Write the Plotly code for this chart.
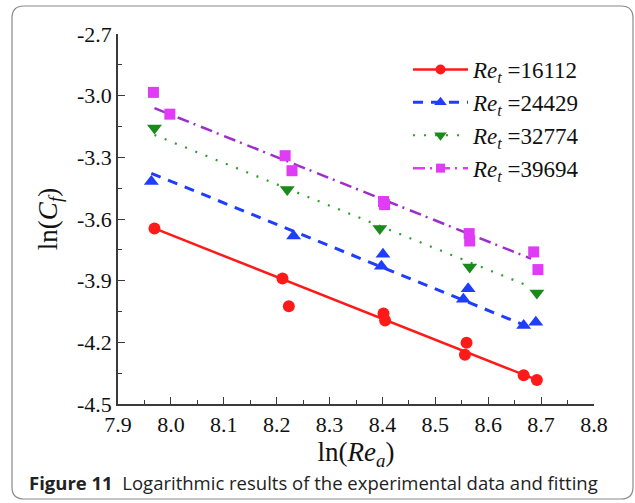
import plotly.graph_objects as go

# ---------------- data ----------------
red_x = [7.969, 8.211, 8.223, 8.402, 8.405, 8.556, 8.559, 8.667, 8.692]
red_y = [-3.646, -3.890, -4.025, -4.060, -4.094, -4.260, -4.202, -4.360, -4.383]
red_fit_x = [7.969, 8.692]
red_fit_y = [-3.646, -4.383]

blue_x = [7.963, 8.232, 8.401, 8.398, 8.562, 8.553, 8.667, 8.690]
blue_y = [-3.418, -3.683, -3.772, -3.830, -3.939, -3.990, -4.118, -4.102]
blue_fit_x = [7.963, 8.672]
blue_fit_y = [-3.378, -4.120]

green_x = [7.969, 8.220, 8.395, 8.565, 8.692]
green_y = [-3.157, -3.456, -3.646, -3.834, -3.960]
green_fit_x = [7.969, 8.678]
green_fit_y = [-3.191, -3.928]

mag_x = [7.967, 7.998, 8.216, 8.229, 8.402, 8.404, 8.564, 8.565, 8.686, 8.694]
mag_y = [-2.984, -3.090, -3.292, -3.365, -3.515, -3.530, -3.671, -3.707, -3.760, -3.846]
mag_fit_x = [7.969, 8.681]
mag_fit_y = [-3.061, -3.793]

legend_names = ["16112", "24429", "32774", "39694"]
x_ticks = [7.9, 8.0, 8.1, 8.2, 8.3, 8.4, 8.5, 8.6, 8.7, 8.8]
y_ticks = [-2.7, -3.0, -3.3, -3.6, -3.9, -4.2, -4.5]

# ---------------- styles ----------------
RED = "#ff1a1a"
BLUE = "#1f3dff"
GREEN = "#1a8a1a"
MAG = "#e03cf5"
PURPLE = "#9d2fc9"

series = [
    (red_x, red_y, red_fit_x, red_fit_y, RED, RED, "solid", "circle", 12, 2.5, 10),
    (blue_x, blue_y, blue_fit_x, blue_fit_y, BLUE, BLUE, "10px,8px", "triangle-up", 13, 3, 11),
    (green_x, green_y, green_fit_x, green_fit_y, GREEN, "#2aa02a", "2px,9px", "triangle-down", 13, 2.2, 11),
    (mag_x, mag_y, mag_fit_x, mag_fit_y, MAG, PURPLE, "12px,5px,2px,6px", "square", 11, 2.5, 9),
]

fig = go.Figure()
for (sx, sy, fx, fy, mcol, lcol, dash, sym, msz, lw, lsz) in series:
    fig.add_trace(go.Scatter(x=fx, y=fy, mode="lines",
                             line=dict(color=lcol, width=lw, dash=dash),
                             showlegend=False, hoverinfo="skip"))
for (sx, sy, fx, fy, mcol, lcol, dash, sym, msz, lw, lsz) in series:
    fig.add_trace(go.Scatter(x=sx, y=sy, mode="markers",
                             marker=dict(color=mcol, symbol=sym, size=msz, line=dict(width=0)),
                             showlegend=False))
leg_line_cols = [RED, BLUE, "#2aa02a", MAG]
for (s, name, lc) in zip(series, legend_names, leg_line_cols):
    sx, sy, fx, fy, mcol, lcol, dash, sym, msz, lw, lsz = s
    fig.add_trace(go.Scatter(x=[None], y=[None], mode="lines+markers",
                             line=dict(color=lc, width=lw, dash=dash),
                             marker=dict(color=mcol, symbol=sym, size=lsz),
                             name="<i>Re</i><sub><i>t</i></sub> =" + name))

L, R, T, B = 118, 41, 34, 99
W, H = 635, 503
pw, ph = W - L - R, H - T - B


def px2paper_x(p):
    return (p - L) / pw


def px2paper_y(p):
    return 1 - (p - T) / ph


# rounded border box
x0, x1, y0, y1, r = 12, 633, 6, 499, 12
rx, ry = r / pw, r / ph
X0, X1 = px2paper_x(x0), px2paper_x(x1)
Y0, Y1 = px2paper_y(y0), px2paper_y(y1)
path = (f"M {X0+rx},{Y0} L {X1-rx},{Y0} Q {X1},{Y0} {X1},{Y0-ry} "
        f"L {X1},{Y1+ry} Q {X1},{Y1} {X1-rx},{Y1} L {X0+rx},{Y1} "
        f"Q {X0},{Y1} {X0},{Y1+ry} L {X0},{Y0-ry} Q {X0},{Y0} {X0+rx},{Y0} Z")

axis_common = dict(
    showline=True, linecolor="#3a3a3a", linewidth=1.5,
    ticks="inside", ticklen=7, tickwidth=1.2, tickcolor="#3a3a3a",
    showgrid=False, zeroline=False, mirror=False,
    tickfont=dict(family="Liberation Serif", size=22, color="#111"),
)

fig.update_layout(
    width=W, height=H,
    margin=dict(l=L, r=R, t=T, b=B),
    paper_bgcolor="white", plot_bgcolor="white",
    xaxis=dict(range=[7.9, 8.8], tickvals=x_ticks, ticktext=[f"{v:.1f}" for v in x_ticks],
               minor=dict(ticks="inside", ticklen=4, tickcolor="#3a3a3a", dtick=0.05, tick0=7.9),
               title=dict(text="ln(<i>Re</i><sub><i>a</i></sub>)",
                          font=dict(family="Liberation Serif", size=27, color="#111"), standoff=2),
               **axis_common),
    yaxis=dict(range=[-4.5, -2.7], tickvals=y_ticks, ticktext=[f"{v:.1f}" for v in y_ticks],
               minor=dict(ticks="inside", ticklen=4, tickcolor="#3a3a3a", dtick=0.15, tick0=-2.7),
               title=dict(text="ln(<i>C</i><sub><i>f</i></sub>)",
                          font=dict(family="Liberation Serif", size=27, color="#111"), standoff=12),
               **axis_common),
    legend=dict(x=px2paper_x(408), y=px2paper_y(48), xanchor="left", yanchor="top",
                bgcolor="rgba(0,0,0,0)", itemwidth=55,
                font=dict(family="Liberation Serif", size=23, color="#111"),
                tracegroupgap=0),
    shapes=[dict(type="path", xref="paper", yref="paper", path=path,
                 line=dict(color="#8a8a8a", width=1.2), layer="below")],
    annotations=[dict(xref="paper", yref="paper", x=px2paper_x(27), y=px2paper_y(482),
                      xanchor="left", yanchor="middle", showarrow=False,
                      text="<b>Figure 11</b>  Logarithmic results of the experimental data and fitting",
                      font=dict(family="Open Sans", size=18.5, color="#222"))],
)

fig.write_html("out.html", config={"displayModeBar": False},
               post_script="document.body.style.margin='0';document.body.style.overflow='hidden';")
